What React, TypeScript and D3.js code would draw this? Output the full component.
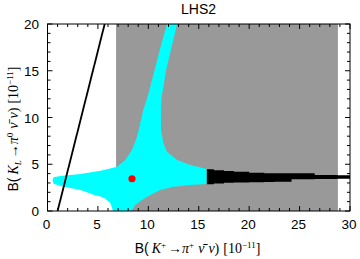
import React from 'react';
import * as d3 from 'd3';

// axis setup
const xDomain = [0, 30];
const yDomain = [0, 20];
const xMajor = [0, 5, 10, 15, 20, 25, 30];
const yMajor = [0, 5, 10, 15, 20];
const xMinor = d3.range(0, 31, 1);
const yMinor = d3.range(0, 21, 1);

// excluded (gray) band in B(K+) and the bound line
const grayBand = [6.8, 28.8];
const boundLine = [
  { x: 1.0, y: 0 },
  { x: 5.67, y: 20 },
];

// cyan allowed region (outline)
const cyanRegion: [number, number][] = [
  [11.85, 20], [11.2, 17.5], [10.6, 15], [10.0, 12.5], [9.5, 10.8], [9.2, 9.4],
  [8.88, 7.95], [8.38, 6.52], [7.72, 5.45], [6.9, 4.74], [6.0, 4.5], [5.25, 4.31],
  [3.27, 3.96], [1.29, 3.74], [0.6, 3.62], [0.5, 3.3], [0.6, 2.92], [1.29, 2.67],
  [3.27, 2.25], [4.58, 1.75], [5.25, 1.55], [5.74, 1.3], [6.24, 0.82], [6.5, 0],
  [8.3, 0], [8.7, 0.64], [9.37, 1.18], [10.2, 1.71], [11.19, 2.25], [12.5, 2.6],
  [14.16, 2.78], [15.8, 2.89], [15.8, 4.5], [14.16, 4.92], [12.84, 5.45], [11.85, 6.34],
  [11.5, 7.24], [11.26, 8.66], [11.25, 10.8], [11.3, 12], [11.75, 15], [12.3, 17.5],
  [12.85, 20],
];

// black band continuing to the right
const bandX = [15.8, 16.5, 17.5, 18.5, 20, 21.5, 22.5, 24.2, 26.5, 28.7, 30];
const bandTop = [4.46, 4.35, 4.28, 4.2, 4.1, 4.05, 4.03, 4.03, 3.85, 3.82, 3.82];
const bandBottom = [2.85, 2.95, 3.03, 3.05, 3.07, 3.1, 3.14, 3.39, 3.42, 3.46, 3.46];

// SM point
const smPoint = { x: 8.38, y: 3.45 };

const W = 360;
const H = 259;
const sans = "'Liberation Sans', Arial, sans-serif";
const serif = "'Liberation Serif', 'Times New Roman', serif";

export default function App() {
  const x = d3.scaleLinear().domain(xDomain).range([47.5, 350]);
  const y = d3.scaleLinear().domain(yDomain).range([211, 24]);
  const [x0, x1] = x.range();
  const [y0, y1] = y.range();

  const cyanPath = d3.line<[number, number]>()
    .x(d => x(d[0]))
    .y(d => y(d[1]))(cyanRegion) + 'Z';

  const band = bandX.map((v, i) => ({ x: v, top: bandTop[i], bottom: bandBottom[i] }));
  const bandPath = d3.area<{ x: number; top: number; bottom: number }>()
    .x(d => x(d.x))
    .y0(d => y(d.bottom))
    .y1(d => y(d.top))
    .curve(d3.curveStepAfter)(band) as string;

  const isMajX = (v: number) => xMajor.includes(v);
  const isMajY = (v: number) => yMajor.includes(v);

  return (
    <svg width={W} height={H} style={{ position: 'absolute', left: 0, top: 0, background: '#fff' }}>
      <rect
        x={x(grayBand[0])}
        y={y1}
        width={x(grayBand[1]) - x(grayBand[0])}
        height={y0 - y1}
        fill="#999999"
      />
      <path d={cyanPath} fill="#00ffff" />
      <path d={bandPath} fill="#000" />
      <line
        x1={x(boundLine[0].x)}
        y1={y(boundLine[0].y)}
        x2={x(boundLine[1].x)}
        y2={y(boundLine[1].y)}
        stroke="#000"
        strokeWidth={1.8}
      />
      <circle cx={x(smPoint.x)} cy={y(smPoint.y)} r={3.6} fill="#ff0000" />

      {/* ticks on all four sides, pointing inward */}
      <g stroke="#000" strokeWidth={1}>
        {xMinor.map(v => {
          const len = isMajX(v) ? 5 : 3;
          return (
            <g key={'xt' + v}>
              <line x1={x(v)} x2={x(v)} y1={y0} y2={y0 - len} />
              <line x1={x(v)} x2={x(v)} y1={y1} y2={y1 + len} />
            </g>
          );
        })}
        {yMinor.map(v => {
          const len = isMajY(v) ? 5 : 3;
          return (
            <g key={'yt' + v}>
              <line x1={x0} x2={x0 + len} y1={y(v)} y2={y(v)} />
              <line x1={x1} x2={x1 - len} y1={y(v)} y2={y(v)} />
            </g>
          );
        })}
      </g>
      <rect x={x0} y={y1} width={x1 - x0} height={y0 - y1} fill="none" stroke="#000" strokeWidth={1} />

      <g fontFamily={sans} fontSize={13.5} fill="#000">
        {xMajor.map(v => (
          <text key={'xl' + v} x={x(v) - 1} y={229} textAnchor="middle">{v}</text>
        ))}
        {yMajor.map(v => (
          <text key={'yl' + v} x={39} y={y(v) + 5} textAnchor="end">{v}</text>
        ))}
      </g>

      <text x={198.5} y={14} textAnchor="middle" fontFamily={sans} fontSize={14}>LHS2</text>

      <text x={197.5} y={253} textAnchor="middle" fontSize={14} fontFamily={serif}>
        <tspan fontFamily={sans}>B(</tspan>
        <tspan dx={3} fontStyle="italic">K</tspan>
        <tspan dy={-5} fontSize={9}>+</tspan>
        <tspan dy={5} dx={2}>→</tspan>
        <tspan fontStyle="italic">π</tspan>
        <tspan dy={-5} fontSize={9}>+</tspan>
        <tspan dy={5} dx={4} fontStyle="italic">ν̄</tspan>
        <tspan dx={4} fontStyle="italic">ν</tspan>
        <tspan>)</tspan>
        <tspan dx={4}>[10</tspan>
        <tspan dy={-5} fontSize={9}>−11</tspan>
        <tspan dy={5}>]</tspan>
      </text>

      <text
        transform={`translate(18, 129) rotate(-90)`}
        textAnchor="middle"
        fontSize={14}
        fontFamily={serif}
      >
        <tspan fontFamily={sans}>B(</tspan>
        <tspan dx={3} fontStyle="italic">K</tspan>
        <tspan dy={3} fontSize={9} fontStyle="italic">L</tspan>
        <tspan dy={-3} dx={2}>→</tspan>
        <tspan fontStyle="italic">π</tspan>
        <tspan dy={-5} fontSize={9}>0</tspan>
        <tspan dy={5} dx={4} fontStyle="italic">ν̄</tspan>
        <tspan dx={4} fontStyle="italic">ν</tspan>
        <tspan>)</tspan>
        <tspan dx={4}>[10</tspan>
        <tspan dy={-5} fontSize={9}>−11</tspan>
        <tspan dy={5}>]</tspan>
      </text>
    </svg>
  );
}
